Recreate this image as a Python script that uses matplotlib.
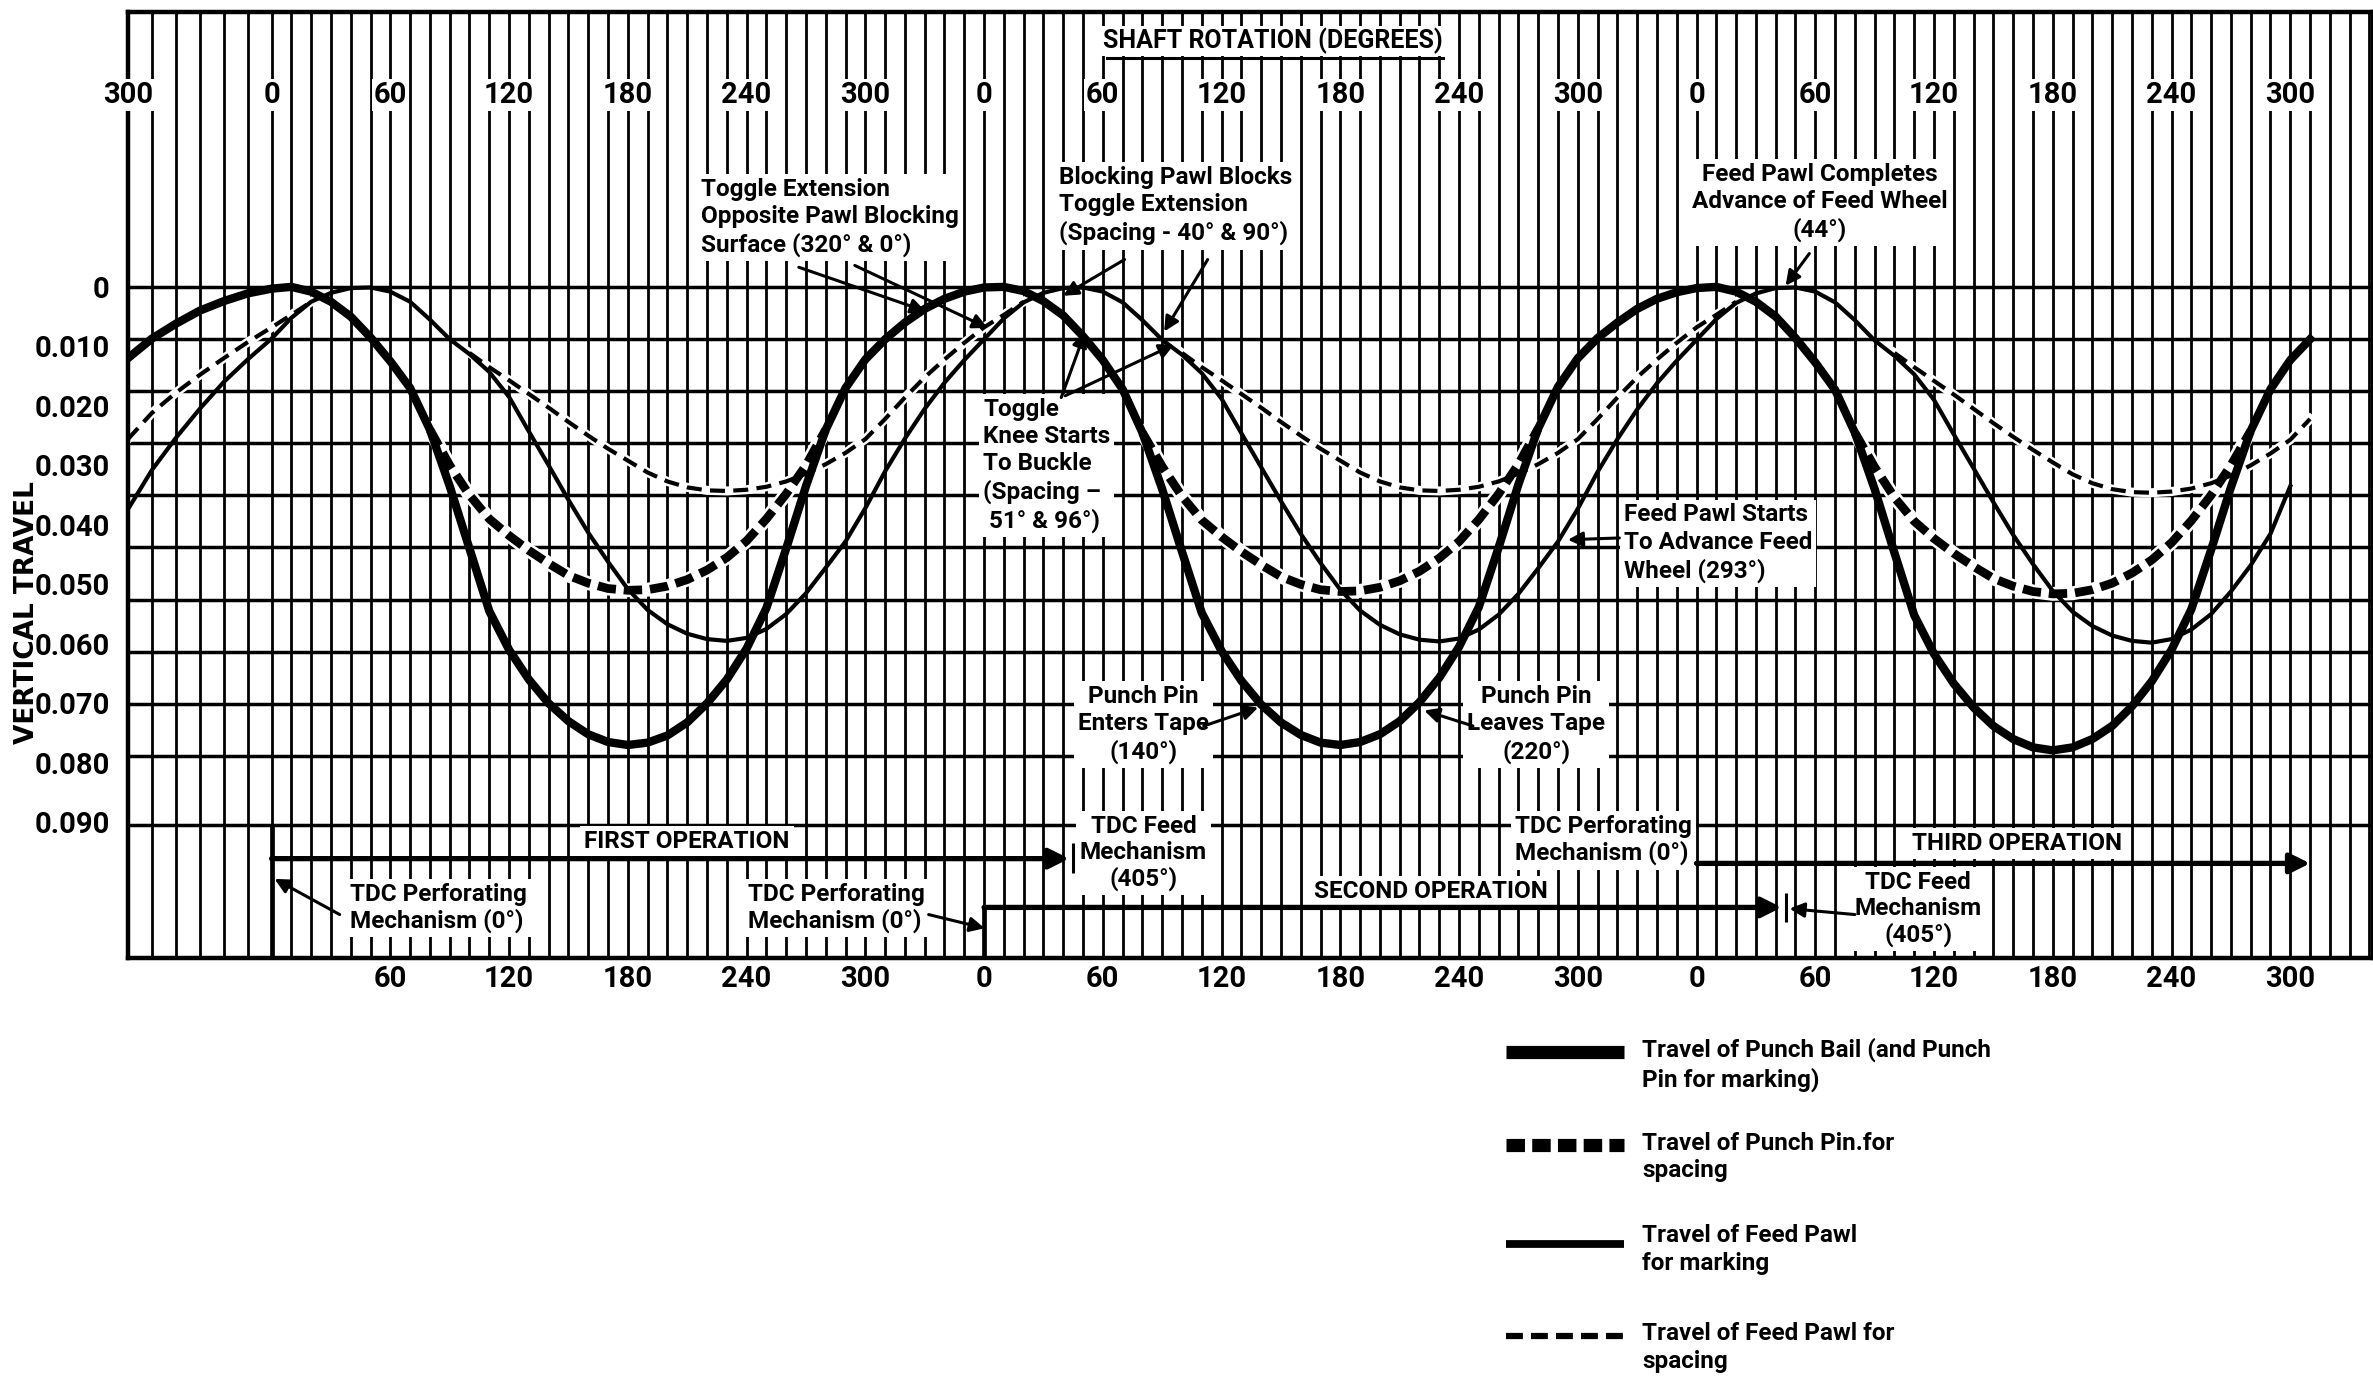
import numpy as np
import matplotlib
matplotlib.use('Agg')
import matplotlib.pyplot as plt
from matplotlib import font_manager
from matplotlib.lines import Line2D

nan = np.nan

# shaft rotation, continuous over three operations (0 = TDC perforating mechanism)
shaft_deg = np.arange(-60, 1031, 10)

# vertical travel (inches), every 10 degrees
bail_travel = [  # punch bail (and punch pin for marking)
    0.0120, 0.0087, 0.0062, 0.0040, 0.0024, 0.0011, 0.0003, 0.0000, 0.0008, 0.0025,
    0.0050, 0.0085, 0.0125, 0.0170, 0.0240, 0.0335, 0.0440, 0.0545, 0.0610, 0.0660,
    0.0700, 0.0730, 0.0752, 0.0765, 0.0770, 0.0766, 0.0754, 0.0732, 0.0700, 0.0660,
    0.0608, 0.0540, 0.0440, 0.0335, 0.0240, 0.0170, 0.0122,
    0.0088, 0.0060, 0.0037, 0.0020, 0.0008, 0.0001, 0.0000, 0.0007, 0.0024, 0.0048,
    0.0083, 0.0123, 0.0172, 0.0245, 0.0340, 0.0445, 0.0548, 0.0612, 0.0662, 0.0702,
    0.0732, 0.0753, 0.0766, 0.0770, 0.0765, 0.0752, 0.0730, 0.0698, 0.0657, 0.0605,
    0.0538, 0.0438, 0.0332, 0.0238, 0.0168, 0.0120,
    0.0086, 0.0060, 0.0037, 0.0020, 0.0009, 0.0002, 0.0000, 0.0008, 0.0025, 0.0050,
    0.0086, 0.0127, 0.0173, 0.0245, 0.0340, 0.0447, 0.0552, 0.0617, 0.0667, 0.0707,
    0.0738, 0.0760, 0.0774, 0.0779, 0.0774, 0.0760, 0.0738, 0.0705, 0.0663, 0.0610,
    0.0542, 0.0442, 0.0337, 0.0242, 0.0172, 0.0123, 0.0088,
]
pin_spacing = [  # punch pin for spacing (only where it leaves the bail curve)
    nan, nan, nan, nan, nan, nan, nan, nan, nan, nan, nan, nan, nan, nan,
    0.0240, 0.0300, 0.0350, 0.0390, 0.0418, 0.0443, 0.0465, 0.0485, 0.0498, 0.0507,
    0.0510, 0.0509, 0.0503, 0.0492, 0.0476, 0.0455, 0.0427, 0.0390, 0.0348, 0.0300,
    0.0240, nan, nan,
    nan, nan, nan, nan, nan, nan, nan, nan, nan, nan, nan, nan, nan,
    0.0245, 0.0302, 0.0352, 0.0392, 0.0420, 0.0445, 0.0467, 0.0487, 0.0500, 0.0509,
    0.0512, 0.0511, 0.0505, 0.0494, 0.0478, 0.0456, 0.0428, 0.0391, 0.0348, 0.0298,
    0.0238, nan, nan,
    nan, nan, nan, nan, nan, nan, nan, nan, nan, nan, nan, nan, nan,
    0.0245, 0.0303, 0.0354, 0.0394, 0.0423, 0.0448, 0.0470, 0.0490, 0.0503, 0.0512,
    0.0516, 0.0515, 0.0509, 0.0498, 0.0481, 0.0459, 0.0430, 0.0393, 0.0350, 0.0300,
    0.0242, nan, nan, nan,
]
pawl_marking = [  # feed pawl for marking
    0.0374, 0.0308, 0.0254, 0.0205, 0.0160, 0.0122, 0.0087, 0.0052, 0.0025, 0.0010,
    0.0002, 0.0001, 0.0008, 0.0025, 0.0055, 0.0088, 0.0113, 0.0143, 0.0185, 0.0243,
    0.0300, 0.0358, 0.0413, 0.0462, 0.0508, 0.0543, 0.0567, 0.0583, 0.0592, 0.0595,
    0.0590, 0.0575, 0.0550, 0.0515, 0.0472, 0.0428, 0.0372,
    0.0310, 0.0255, 0.0205, 0.0161, 0.0123, 0.0088, 0.0053, 0.0026, 0.0010, 0.0002,
    0.0001, 0.0008, 0.0026, 0.0056, 0.0089, 0.0114, 0.0145, 0.0188, 0.0246, 0.0303,
    0.0360, 0.0415, 0.0464, 0.0509, 0.0544, 0.0568, 0.0584, 0.0593, 0.0596, 0.0591,
    0.0576, 0.0551, 0.0516, 0.0473, 0.0428, 0.0373,
    0.0311, 0.0256, 0.0206, 0.0162, 0.0124, 0.0089, 0.0054, 0.0027, 0.0011, 0.0002,
    0.0001, 0.0008, 0.0026, 0.0056, 0.0090, 0.0116, 0.0147, 0.0190, 0.0248, 0.0305,
    0.0362, 0.0417, 0.0466, 0.0511, 0.0546, 0.0570, 0.0586, 0.0595, 0.0598, 0.0592,
    0.0576, 0.0550, 0.0512, 0.0468, 0.0415, 0.0335, nan,
]
pawl_spacing = [  # feed pawl for spacing (joins the marking curve near the top)
    0.0256, 0.0212, 0.0178, 0.0148, 0.0120, 0.0093, 0.0068, 0.0047, 0.0025,
    nan, nan, nan, nan, nan, nan, nan,
    0.0111, 0.0135, 0.0157, 0.0180, 0.0203, 0.0227, 0.0250, 0.0272, 0.0292, 0.0312,
    0.0327, 0.0337, 0.0342, 0.0343, 0.0341, 0.0336, 0.0327, 0.0314, 0.0298, 0.0279,
    0.0256,
    0.0222, 0.0186, 0.0152, 0.0122, 0.0094, 0.0068, 0.0047, 0.0025,
    nan, nan, nan, nan, nan, nan, nan,
    0.0111, 0.0135, 0.0157, 0.0180, 0.0203, 0.0227, 0.0250, 0.0272, 0.0292, 0.0312,
    0.0327, 0.0337, 0.0342, 0.0343, 0.0341, 0.0336, 0.0327, 0.0314, 0.0298, 0.0279,
    0.0256,
    0.0222, 0.0186, 0.0152, 0.0122, 0.0094, 0.0068, 0.0047, 0.0025,
    nan, nan, nan, nan, nan, nan, nan,
    0.0111, 0.0135, 0.0158, 0.0181, 0.0205, 0.0229, 0.0252, 0.0274, 0.0295, 0.0315,
    0.0330, 0.0340, 0.0345, 0.0346, 0.0344, 0.0339, 0.0330, 0.0317, 0.0300, 0.0280,
    0.0257, 0.0222,
]

# axis labelling
y_ticks = [0, 0.01, 0.02, 0.03, 0.04, 0.05, 0.06, 0.07, 0.08, 0.09]
y_tick_labels = ['0', '0.010', '0.020', '0.030', '0.040', '0.050', '0.060',
                 '0.070', '0.080', '0.090']
top_deg = [-60, 0, 60, 120, 180, 240, 300, 360, 420, 480, 540, 600, 660,
           720, 780, 840, 900, 960, 1020]
top_labels = ['300', '0', '60', '120', '180', '240', '300', '0', '60', '120',
              '180', '240', '300', '0', '60', '120', '180', '240', '300']
bottom_deg = top_deg[2:]
bottom_labels = top_labels[2:]
# the printed grid rulings are not spaced like the scale lettering
grid_rules = [0, 0.0088, 0.0175, 0.0263, 0.0350, 0.0438, 0.0526, 0.0613,
              0.0701, 0.0788, 0.0905]

names = {f.name for f in font_manager.fontManager.ttflist}
NARROW = 'Liberation Sans Narrow' if 'Liberation Sans Narrow' in names else 'Roboto'
plt.rcParams['font.family'] = NARROW
plt.rcParams['font.weight'] = 'bold'


# the first 60 degrees of the sheet are ruled a little wider
def fwd(d):
    d = np.asarray(d, dtype=float)
    return np.where(d < 0, d * 1.21, d)


def inv(s):
    s = np.asarray(s, dtype=float)
    return np.where(s < 0, s / 1.21, s)


XMAX = 1061.8
YTOP, YBOT = -0.0462, 0.1128

fig = plt.figure(figsize=(23.73, 13.80), dpi=100)
ax = fig.add_axes([0.0539, 0.3058, 0.9461, 0.6855])
ax.set_xscale('function', functions=(fwd, inv))
ax.set_xlim(-60, XMAX)
ax.set_ylim(YBOT, YTOP)

# grid
ax.vlines(np.arange(-60, 1061, 10), YTOP, YBOT, color='black', lw=2.0, zorder=1)
ax.hlines(grid_rules, -60, XMAX, color='black', lw=2.5, zorder=1)
ax.vlines([0], 0.0905, YBOT, color='black', lw=3.4, zorder=1)
ax.vlines([360], 0.1043, YBOT, color='black', lw=3.4, zorder=1)
for s in ax.spines.values():
    s.set_linewidth(3.2)

# curves
ax.plot(shaft_deg, pawl_spacing, color='white', lw=6.5, zorder=2)
ax.plot(shaft_deg, pawl_marking, color='black', lw=3.0, zorder=3)
ax.plot(shaft_deg, pawl_spacing, color='black', lw=3.0, ls=(0, (3.6, 2.0)), zorder=3)
ax.plot(shaft_deg, pin_spacing, color='white', lw=10, zorder=2)
ax.plot(shaft_deg, pin_spacing, color='black', lw=6.3, ls=(0, (2.1, 0.9)),
        dash_capstyle='butt', zorder=3)
ax.plot(shaft_deg, bail_travel, color='black', lw=6.0, zorder=4)

# scales
ax.set_yticks(y_ticks, y_tick_labels, fontsize=21)
ax.set_xticks(bottom_deg, bottom_labels, fontsize=21)
ax.tick_params(axis='y', length=0, pad=13)
ax.tick_params(axis='x', length=0, pad=5)
for d, lab in zip(top_deg, top_labels):
    ax.text(d, -0.0323, lab, ha='center', va='center', fontsize=21, zorder=5,
            bbox=dict(fc='white', ec='none', pad=1.5))
ax.text(506, -0.0413, 'SHAFT ROTATION (DEGREES)', ha='center', va='center',
        fontsize=18, zorder=5, bbox=dict(fc='white', ec='none', pad=1))
ax.plot([422, 592], [-0.0385, -0.0385], color='black', lw=2.2, zorder=6)
fig.text(0.0114, 0.5558, 'VERTICAL TRAVEL', rotation=90, ha='center', va='center',
         fontsize=19, family='DejaVu Sans', weight='bold')

box = dict(fc='white', ec='none', pad=3)
note = dict(fontsize=17.5, linespacing=1.24, zorder=5, bbox=box)
ax.text(216.8, -0.0183, 'Toggle Extension\nOpposite Pawl Blocking\nSurface (320° & 0°)',
        ha='left', va='top', **note)
ax.text(397.7, -0.0203, 'Blocking Pawl Blocks\nToggle Extension\n(Spacing - 40° & 90°)',
        ha='left', va='top', **note)
ax.text(359.5, 0.0186, 'Toggle\nKnee Starts\nTo Buckle\n(Spacing –\n 51° & 96°)',
        ha='left', va='top', **note)
ax.text(717.6, -0.0209, 'Feed Pawl Completes\nAdvance of Feed Wheel\n(44°)',
        ha='left', va='top', multialignment='center', **note)
ax.text(683.2, 0.0364, 'Feed Pawl Starts\nTo Advance Feed\nWheel (293°)',
        ha='left', va='top', **note)
ax.text(440.5, 0.0669, 'Punch Pin\nEnters Tape\n(140°)', ha='center', va='top', **note)
ax.text(639, 0.0669, 'Punch Pin\nLeaves Tape\n(220°)', ha='center', va='top', **note)

ops = dict(fontsize=17.5, linespacing=1.15, zorder=5, bbox=box)
ax.text(210, 0.0933, 'FIRST OPERATION', ha='center', va='center', **ops)
ax.text(586, 0.1017, 'SECOND OPERATION', ha='center', va='center', **ops)
ax.text(881.7, 0.0936, 'THIRD OPERATION', ha='center', va='center', **ops)
ax.text(39.7, 0.1002, 'TDC Perforating\nMechanism (0°)', ha='left', va='top', **ops)
ax.text(240.5, 0.1002, 'TDC Perforating\nMechanism (0°)', ha='left', va='top', **ops)
ax.text(628.2, 0.0888, 'TDC Perforating\nMechanism (0°)', ha='left', va='top', **ops)
ax.text(440.5, 0.0888, 'TDC Feed\nMechanism\n(405°)', ha='center', va='top',
        multialignment='center', **ops)
ax.text(832, 0.0982, 'TDC Feed\nMechanism\n(405°)', ha='center', va='top',
        multialignment='center', **ops)

arrow = dict(arrowstyle='-|>', color='black', lw=2.2, mutation_scale=22,
             shrinkA=0, shrinkB=0)
pointers = [
    ((266.4, -0.0033), (330.5, 0.0041)),
    ((294.7, -0.0036), (361.8, 0.0069)),
    ((431, -0.0046), (400, 0.0015)),
    ((473, -0.0046), (451, 0.0075)),
    ((399, 0.0186), (411, 0.0076)),
    ((401, 0.0183), (456, 0.0097)),
    ((777, -0.0056), (765, -0.0002)),
    ((681, 0.0422), (655, 0.0425)),
    ((471, 0.0738), (498.5, 0.0707)),
    ((607, 0.0738), (582.4, 0.0712)),
    ((34.4, 0.1055), (1.5, 0.0995)),
    ((332, 0.1055), (360.3, 0.1078)),
    ((800, 0.1055), (767, 0.1045)),
]
for tail, tip in pointers:
    ax.annotate('', xy=tip, xytext=tail, arrowprops=arrow, zorder=6)

span = dict(arrowstyle='-|>', color='black', lw=3.8, mutation_scale=30,
            shrinkA=0, shrinkB=0)
ax.annotate('', xy=(403, 0.0961), xytext=(0, 0.0961), arrowprops=span, zorder=6)
ax.annotate('', xy=(763, 0.1043), xytext=(360, 0.1043), arrowprops=span, zorder=6)
ax.annotate('', xy=(1030, 0.0969), xytext=(720, 0.0969), arrowprops=span, zorder=6)
ax.vlines([405], 0.0935, 0.0985, color='black', lw=2.2, zorder=6)
ax.vlines([765], 0.1018, 0.1068, color='black', lw=2.2, zorder=6)

# legend drawn below the sheet
x0, x1, xt = 0.6346, 0.6843, 0.6920
keys = [
    (0.2379, dict(lw=9.5), 0.2478, 'Travel of Punch Bail (and Punch\nPin for marking)'),
    (0.1700, dict(lw=9.5, ls=(0, (1.4, 0.55))), 0.1798, 'Travel of Punch Pin.for\nspacing'),
    (0.0987, dict(lw=5.6), 0.1129, 'Travel of Feed Pawl\nfor marking'),
    (0.0318, dict(lw=4.5, ls=(0, (2.7, 1.3))), 0.0417, 'Travel of Feed Pawl for\nspacing'),
]
for y, style, yt, label in keys:
    fig.add_artist(Line2D([x0, x1], [y, y], transform=fig.transFigure, color='black',
                          solid_capstyle='butt', dash_capstyle='butt', **style))
    fig.text(xt, yt, label, ha='left', va='top', fontsize=17.5, linespacing=1.25)

fig.savefig('out.png', dpi=100)
